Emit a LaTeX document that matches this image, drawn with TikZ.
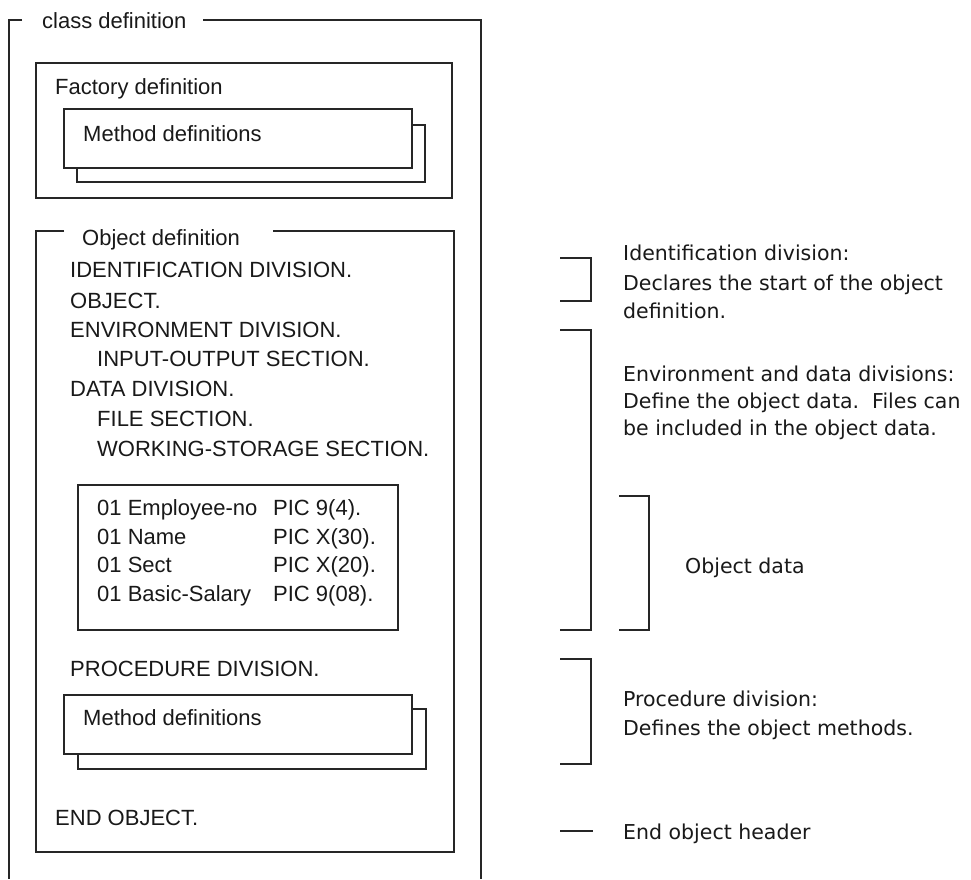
\documentclass[tikz,border=0pt]{standalone}
\usepackage{fontspec}
\setmainfont{Liberation Sans}
\newfontfamily\rightfont{DejaVu Sans}
\begin{document}
\begin{tikzpicture}[x=1pt,y=-1pt,
  ln/.style={line width=1.3pt,black!85},
  txt/.style={anchor=base west,inner sep=0pt,font=\fontsize{22}{26}\selectfont,text=black!90},
  rtxt/.style={anchor=base west,inner sep=0pt,font=\rightfont\fontsize{20.5}{24}\selectfont,text=black!90},
  bx/.style={ln,fill=white}]
\useasboundingbox[fill=white] (0,0) rectangle (971,879);
% class definition frame
\draw[ln] (22,20) -- (9,20) -- (9,879);
\draw[ln] (203,20) -- (481,20) -- (481,879);
\node[txt] (cls) at (42,28) {class definition};
% factory
\draw[ln] (36,63) rectangle (452,198);
\node[txt] (fac) at (55,94) {Factory definition};
\draw[bx] (77,125) rectangle (425,182);
\draw[bx] (64,109) rectangle (412,168);
\node[txt] (fm) at (83,141) {Method definitions};
% object definition
\draw[ln] (64,231) -- (36,231) -- (36,852) -- (454,852) -- (454,231) -- (273,231);
\node[txt] (obj) at (82,245) {Object definition};
\node[txt] (l1) at (70,277) {IDENTIFICATION DIVISION.};
\node[txt] (l2) at (70,308) {OBJECT.};
\node[txt] (l3) at (70,337) {ENVIRONMENT DIVISION.};
\node[txt] (l4) at (97,366) {INPUT-OUTPUT SECTION.};
\node[txt] (l5) at (70,396) {DATA DIVISION.};
\node[txt] (l6) at (97,426) {FILE SECTION.};
\node[txt] (l7) at (97,456) {WORKING-STORAGE SECTION.};
% data box
\draw[ln] (78,485) rectangle (398,630);
\node[txt] (d1) at (97,515) {01 Employee-no};
\node[txt] (d2) at (97,544) {01 Name};
\node[txt] (d3) at (97,572) {01 Sect};
\node[txt] (d4) at (97,601) {01 Basic-Salary};
\node[txt] (p1) at (273,515) {PIC 9(4).};
\node[txt] (p2) at (273,544) {PIC X(30).};
\node[txt] (p3) at (273,572) {PIC X(20).};
\node[txt] (p4) at (273,601) {PIC 9(08).};
\node[txt] (pd) at (70,676) {PROCEDURE DIVISION.};
\draw[bx] (78,709) rectangle (426,769);
\draw[bx] (64,695) rectangle (412,754);
\node[txt] (om) at (83,725) {Method definitions};
\node[txt] (eo) at (55,825) {END OBJECT.};
% right-side brackets
\draw[ln] (560,258) -- (591,258) -- (591,301) -- (560,301);
\draw[ln] (560,330) -- (591,330) -- (591,630) -- (560,630);
\draw[ln] (619,496) -- (649,496) -- (649,630) -- (619,630);
\draw[ln] (560,659) -- (591,659) -- (591,764) -- (560,764);
\draw[ln] (560,831) -- (593,831);
% right-side texts
\node[rtxt] (r1) at (623,260) {Identification division:};
\node[rtxt] (r2) at (623,290) {Declares the start of the object};
\node[rtxt] (r3) at (623,318) {definition.};
\node[rtxt] (r4) at (623,381) {Environment and data divisions:};
\node[rtxt] (r5) at (623,408) {Define the object data.\ \ Files can};
\node[rtxt] (r6) at (623,435) {be included in the object data.};
\node[rtxt] (r7) at (685,573) {Object data};
\node[rtxt] (r8) at (623,706) {Procedure division:};
\node[rtxt] (r9) at (623,735) {Defines the object methods.};
\node[rtxt] (r10) at (623,839) {End object header};
\end{tikzpicture}
\end{document}
